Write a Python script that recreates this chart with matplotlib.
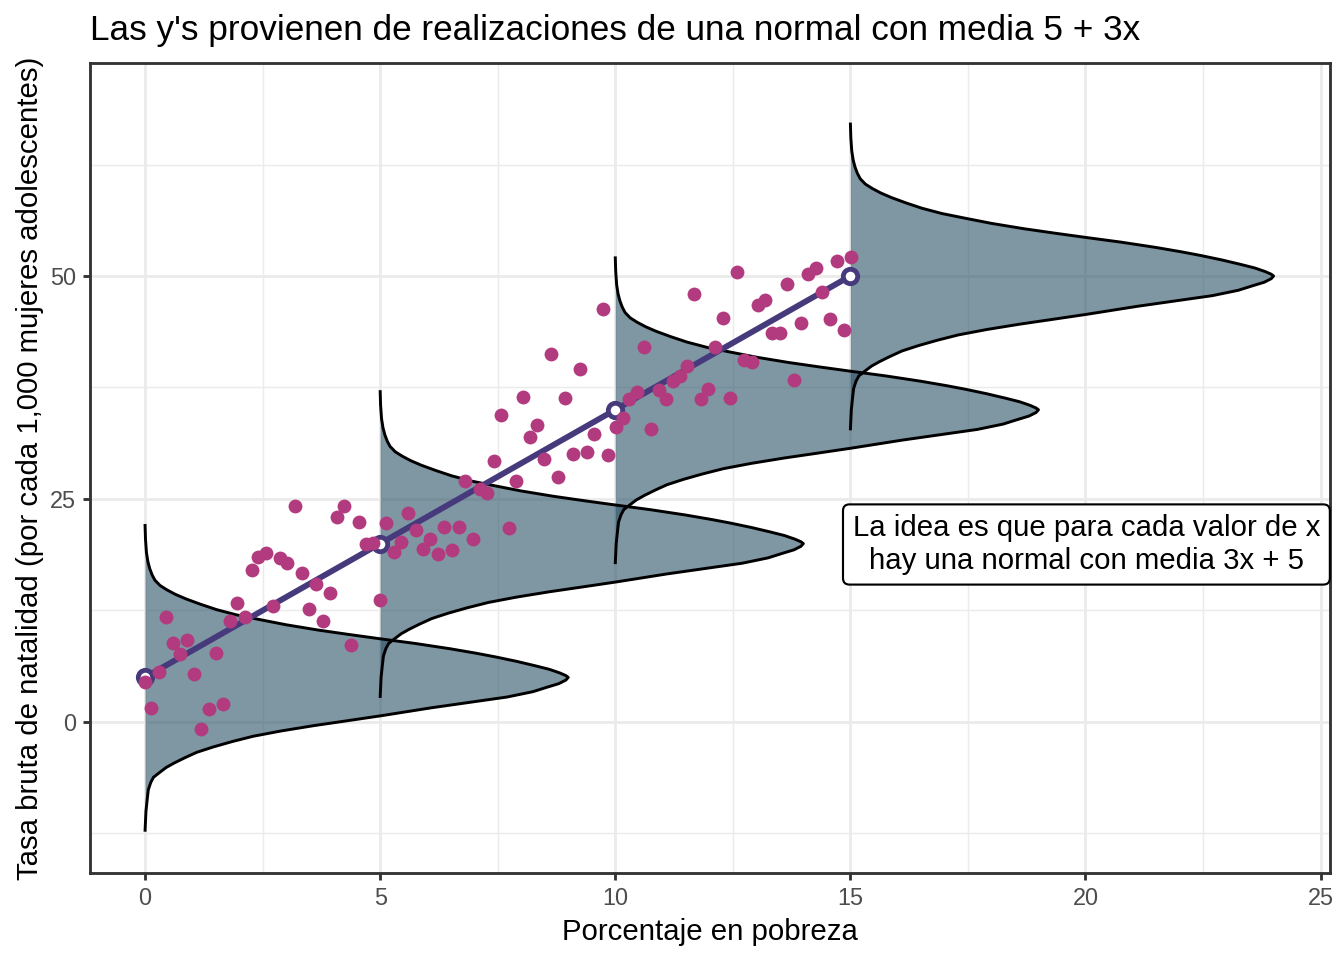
import matplotlib.pyplot as plt

plt.rcParams['font.family'] = ['Liberation Sans', 'DejaVu Sans']

# scatter points (x = % pobreza, y = tasa de natalidad)
pts_x = [3.18, 4.24, 4.09, 4.55, 5.13, 4.70, 4.84, 2.41, 2.57, 2.87, 3.03, 2.27, 3.33, 3.64, 3.94,
         5.00, 1.96, 2.73, 3.48, 0.45, 1.81, 2.12, 3.78, 0.59, 0.90, 0.74, 1.51, 4.39, 0.29, 1.05,
         0.00, 0.13, 1.36, 1.65, 1.20,
         8.64, 9.24, 8.03, 8.94, 7.58, 8.33, 8.19, 10.16, 10.01, 9.55, 7.43, 8.49, 9.10, 9.40, 9.85,
         8.79, 6.81, 7.88, 7.13, 7.28, 5.60, 5.77, 6.36, 6.67, 6.97, 7.73, 5.45, 6.06, 5.30, 5.91,
         6.22, 6.52,
         15.02, 14.71, 14.26, 14.09, 12.59, 13.65, 11.68, 14.40, 13.04, 13.19, 12.29, 9.74, 14.56,
         14.86, 13.95, 13.34, 13.51, 10.61, 12.13, 12.73, 12.90, 11.53, 11.38, 11.23, 10.93, 10.46,
         10.30, 11.07, 11.98, 11.82, 12.43, 13.80, 10.76]
pts_y = [24.22, 24.25, 23.02, 22.42, 22.34, 19.92, 20.03, 18.53, 18.91, 18.42, 17.86, 17.04, 16.74,
         15.47, 14.50, 13.68, 13.31, 13.00, 12.70, 11.80, 11.32, 11.74, 11.36, 8.82, 9.19, 7.62, 7.70,
         8.60, 5.61, 5.38, 4.52, 1.54, 1.46, 2.02, -0.82,
         41.26, 39.61, 36.40, 36.32, 34.38, 33.33, 31.98, 34.08, 33.11, 32.29, 29.26, 29.52, 30.04,
         30.27, 29.97, 27.43, 27.05, 27.05, 26.09, 25.71, 23.46, 21.52, 21.86, 21.89, 20.52, 21.78,
         20.18, 20.55, 19.09, 19.36, 18.83, 19.28,
         52.16, 51.72, 50.90, 50.22, 50.45, 49.10, 47.98, 48.17, 46.71, 47.31, 45.33, 46.27, 45.21,
         43.95, 44.70, 43.64, 43.64, 42.07, 42.01, 40.58, 40.36, 39.91, 38.79, 38.19, 37.22, 37.00,
         36.24, 36.18, 37.30, 36.18, 36.32, 38.34, 32.81]

# the x values where a density is drawn, and the mean 5 + 3x
dens_x = [0, 5, 10, 15]
dens_mean = [5, 20, 35, 50]

# density profile: offset from the mean, horizontal width
prof_dy = [17.2, 15.5, 14.0, 13.0, 12.2, 11.5, 10.9, 10.3, 9.8, 9.3, 8.8, 8.2, 7.6, 7.0,
           6.5, 5.9, 5.3, 4.8, 4.3, 3.8, 3.2, 2.7, 2.3, 1.8, 1.3, 0.9, 0.5, 0.2, 0.0,
           -0.3, -0.7, -1.1, -1.6, -2.2, -2.8, -3.4, -3.9, -4.3, -4.9, -5.4, -6.0, -6.6,
           -7.2, -7.8, -8.4, -9.0, -9.6, -10.1, -10.7, -11.2, -11.8, -12.6, -13.5, -15.0, -17.3]
prof_w = [0.0, 0.01, 0.03, 0.06, 0.10, 0.15, 0.21, 0.32, 0.47, 0.65, 0.87, 1.18, 1.52, 1.95,
          2.42, 3.0, 3.69, 4.35, 5.04, 5.75, 6.5, 7.05, 7.45, 7.9, 8.3, 8.6, 8.82, 8.95, 9.0,
          8.95, 8.8, 8.55, 8.25, 7.7, 6.9, 6.1, 5.5, 5.02, 4.25, 3.6, 2.9, 2.3,
          1.85, 1.45, 1.1, 0.85, 0.62, 0.45, 0.3, 0.18, 0.12, 0.07, 0.05, 0.02, 0.0]

fig = plt.figure(figsize=(7, 5), dpi=192)
ax = fig.add_axes([90 / 1344, 1 - 873 / 960, 1240 / 1344, 810 / 960])

ax.set_xlim(-1.17, 25.2)
ax.set_ylim(-16.93, 73.88)
ax.set_xticks([0, 5, 10, 15, 20, 25])
ax.set_yticks([0, 25, 50])
ax.set_xticks([2.5, 7.5, 12.5, 17.5, 22.5], minor=True)
ax.set_yticks([-12.5, 12.5, 37.5, 62.5], minor=True)
ax.grid(which='major', color='#ebebeb', linewidth=1.07)
ax.grid(which='minor', color='#ebebeb', linewidth=0.53)
ax.set_axisbelow(True)
ax.tick_params(which='major', length=2.75, width=1.07, color='#333333',
               labelsize=8.8, labelcolor='#4d4d4d', pad=2.5)
ax.tick_params(which='minor', length=0)
for sp in ax.spines.values():
    sp.set_color('#333333')
    sp.set_linewidth(1.07)

# densities, drawn from the last one so the lower ones sit on top
for x0, m in reversed(list(zip(dens_x, dens_mean))):
    ys = [m + d for d in prof_dy]
    xs = [x0 + w for w in prof_w]
    ax.fill_betweenx(ys, x0, xs, color='#2a5066', alpha=0.6, linewidth=0)
    ax.plot(xs, ys, color='black', linewidth=1.1, solid_joinstyle='round',
            solid_capstyle='butt')

ax.plot(dens_x, dens_mean, color='#463a7d', linewidth=2.2, zorder=3)
ax.plot(dens_x, dens_mean, linestyle='none', marker='o', ms=5.4, mew=1.8,
        mfc='white', mec='#463a7d', zorder=4)
ax.scatter(pts_x, pts_y, s=27, color='#b23a7e', linewidths=0, zorder=5)

ax.text(20.02, 19.9, "La idea es que para cada valor de x\nhay una normal con media 3x + 5",
        ha='center', va='center', fontsize=11, linespacing=1.22, zorder=6,
        bbox=dict(boxstyle='round,pad=0.33,rounding_size=0.22', fc='white', ec='black', lw=0.8))

fig.text(90 / 1344, 1 - 40 / 960, "Las y's provienen de realizaciones de una normal con media 5 + 3x",
         fontsize=13.2, ha='left', va='baseline')
fig.text(710 / 1344, 1 - 940 / 960, "Porcentaje en pobreza", fontsize=11, ha='center', va='baseline')
fig.text(30 / 1344, 1 - 468 / 960, "Tasa bruta de natalidad (por cada 1,000 mujeres adolescentes)",
         fontsize=11, ha='center', va='center', rotation=90)

fig.savefig('out.png', dpi=192)
